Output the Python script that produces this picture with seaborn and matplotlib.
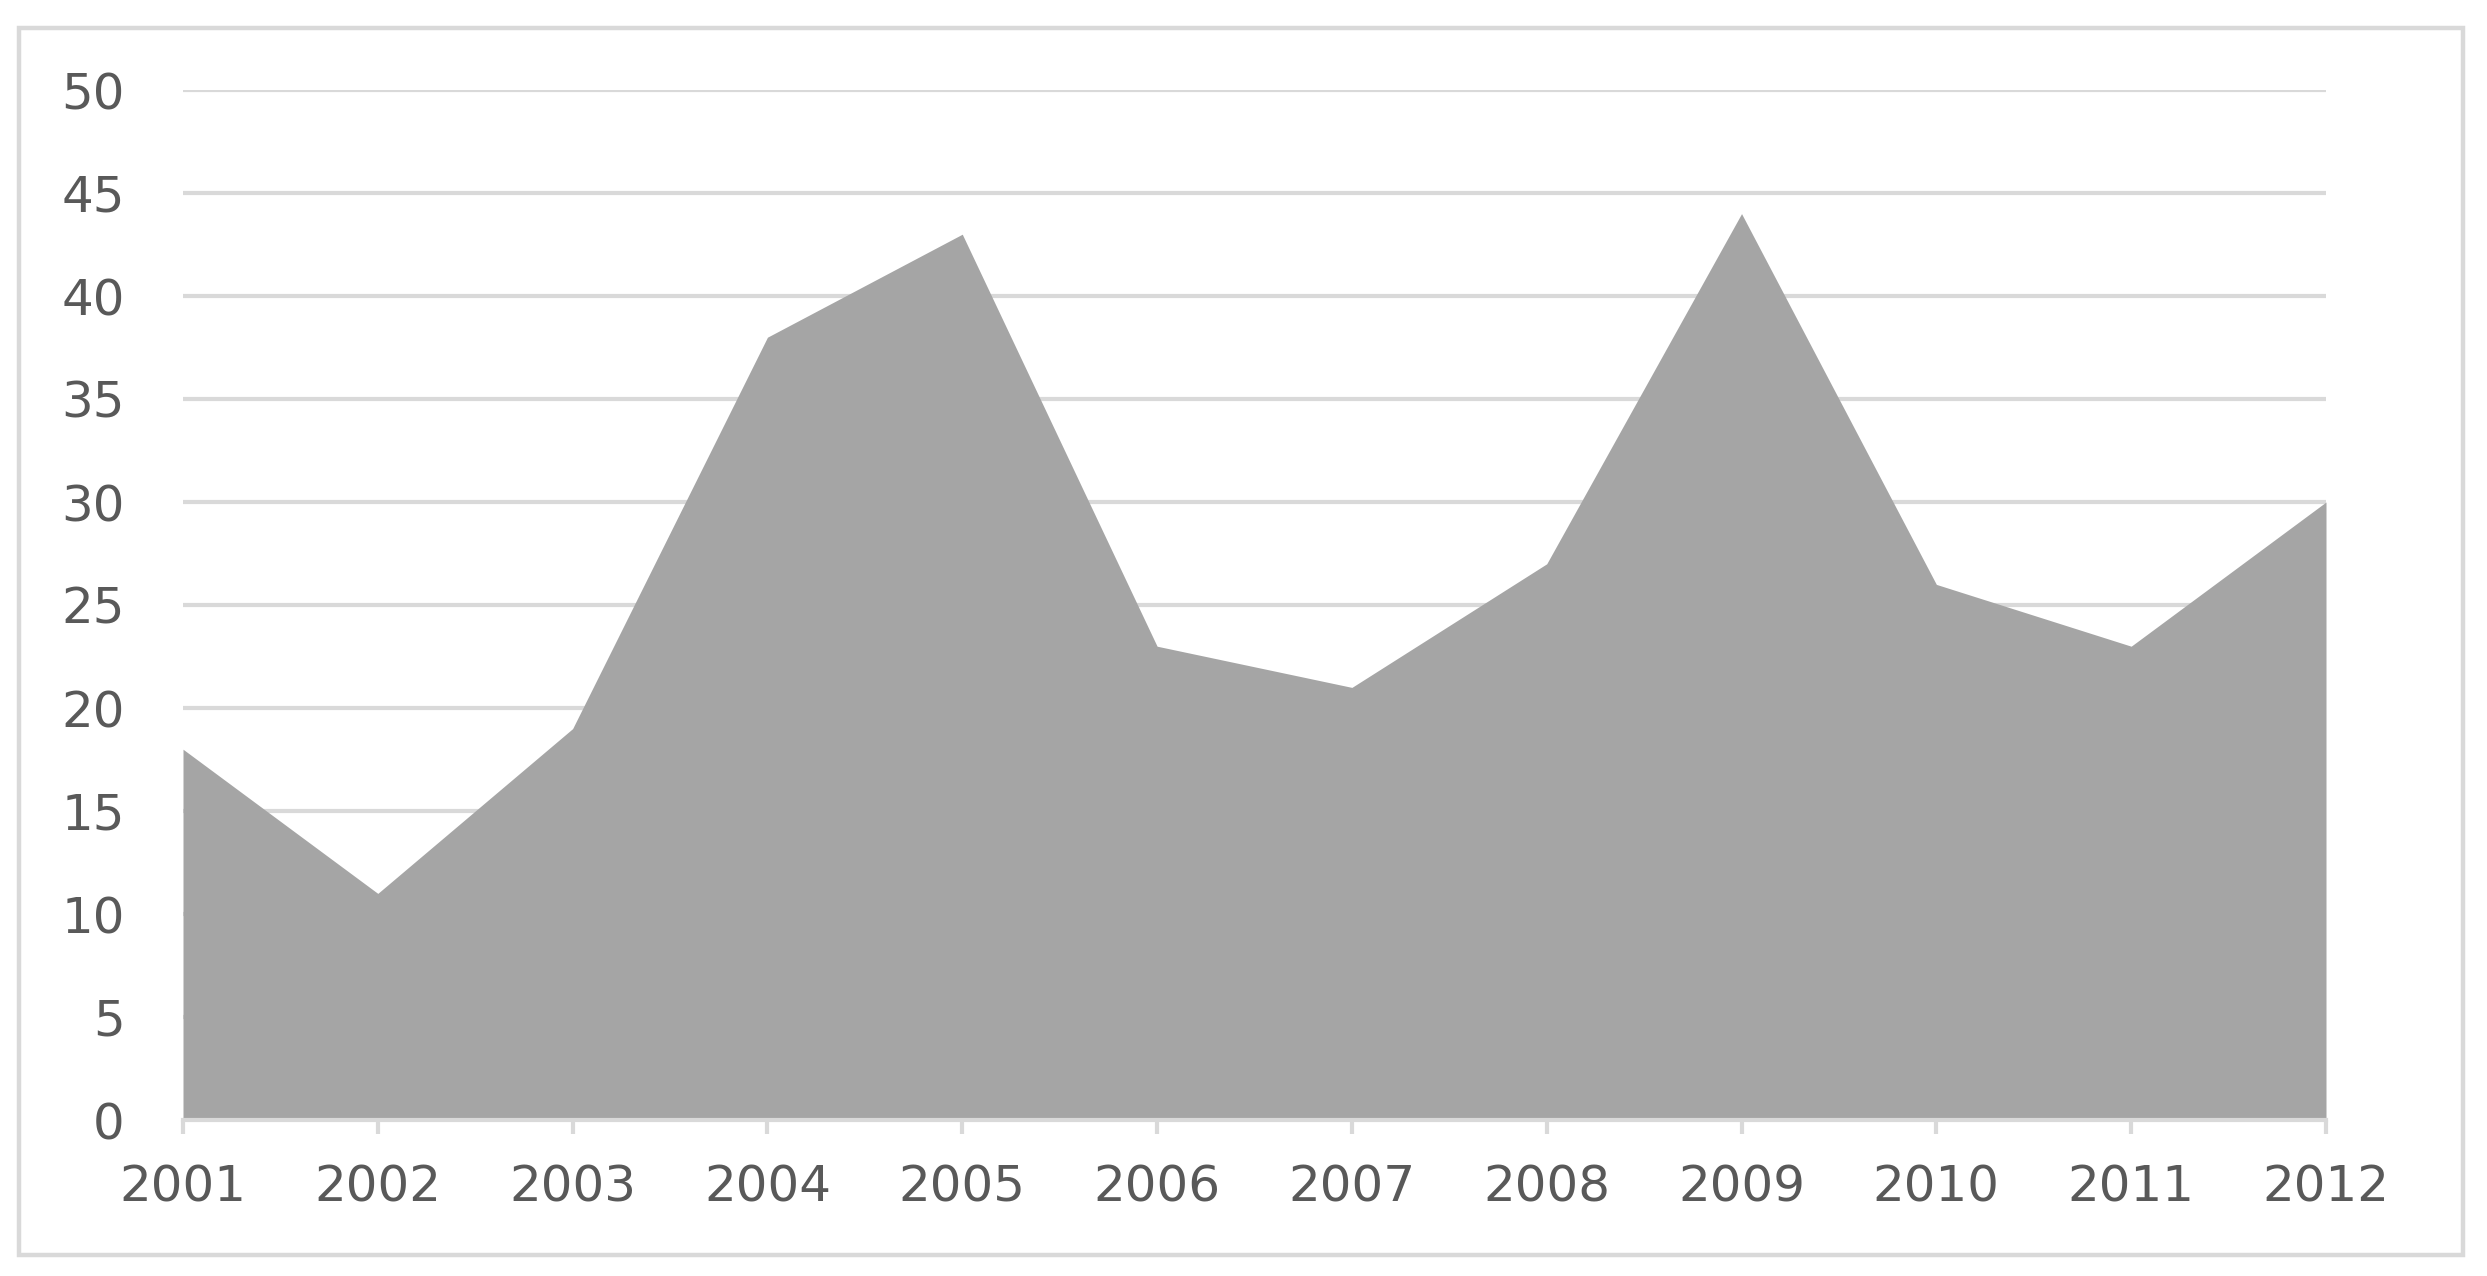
import matplotlib
matplotlib.use("Agg")
import matplotlib.pyplot as plt
import seaborn as sns
import pandas as pd
from matplotlib.patches import Rectangle

years = ["2001", "2002", "2003", "2004", "2005", "2006", "2007", "2008", "2009", "2010", "2011", "2012"]
values = [18, 11, 19, 38, 43, 23, 21, 27, 44, 26, 23, 30]
yticks = [0, 5, 10, 15, 20, 25, 30, 35, 40, 45, 50]

sns.set_theme(style="white")
plt.rcParams['font.family'] = ['DejaVu Sans']

df = pd.DataFrame({"pos": range(len(years)), "value": values})

fig = plt.figure(figsize=(24.87, 12.76), dpi=100)
ax = fig.add_axes([183/2487, 1 - 1120/1276, (2326-183)/2487, (1120-90)/1276])

sns.lineplot(data=df, x="pos", y="value", ax=ax, color="#A5A5A5", linewidth=0)
ax.fill_between(df["pos"], 0, df["value"], color="#A5A5A5", linewidth=0, zorder=2)

ax.set_xlim(0, len(years) - 1)
ax.set_ylim(0, 50)
ax.set_xticks(range(len(years)))
ax.set_xticklabels(years)
ax.set_yticks(yticks)
ax.set_yticklabels([str(v) for v in yticks])
ax.set_xlabel("")
ax.set_ylabel("")

ax.grid(axis="y", color="#D9D9D9", linewidth=3.0, zorder=0)
ax.set_axisbelow(True)
for s in ["top", "right", "left"]:
    ax.spines[s].set_visible(False)
ax.spines["bottom"].set_color("#D9D9D9")
ax.spines["bottom"].set_linewidth(3.0)
ax.spines["bottom"].set_zorder(3)

ax.tick_params(axis="x", which="major", bottom=True, length=10, width=3.0, color="#D9D9D9",
               labelsize=36, labelcolor="#595959", pad=21)
ax.tick_params(axis="y", left=False, labelsize=36, labelcolor="#595959", pad=36)

fig.patches.append(Rectangle((19/2487, 1 - 1255/1276), (2463-19)/2487, (1255-28)/1276,
                             transform=fig.transFigure, fill=False, edgecolor="#D9D9D9", linewidth=3.2))

fig.savefig("out.png", dpi=100, facecolor="white")
